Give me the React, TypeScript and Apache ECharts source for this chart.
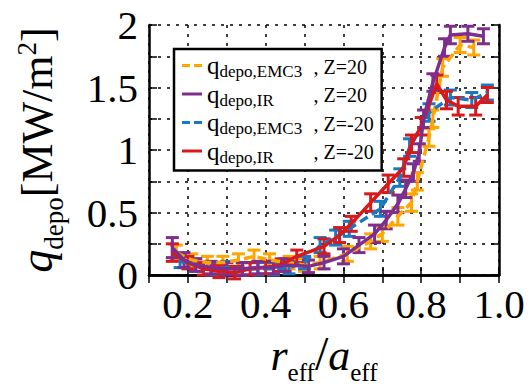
import React, { useEffect, useRef } from "react";
import * as echarts from "echarts";

// ---- data ----
const xEmc20 = [0.17, 0.21, 0.25, 0.29, 0.33, 0.37, 0.41, 0.46, 0.50, 0.54, 0.61, 0.67, 0.70, 0.74, 0.775, 0.79, 0.82, 0.83, 0.855, 0.90, 0.935];
const yEmc20 = [0.18, 0.12, 0.10, 0.10, 0.12, 0.15, 0.12, 0.10, 0.08, 0.10, 0.17, 0.27, 0.33, 0.47, 0.58, 0.75, 1.10, 1.25, 1.66, 1.84, 1.82];
const eEmc20 = [0.06, 0.05, 0.05, 0.05, 0.05, 0.05, 0.05, 0.05, 0.05, 0.05, 0.06, 0.06, 0.06, 0.07, 0.07, 0.07, 0.07, 0.07, 0.07, 0.06, 0.06];

const xIr20 = [0.16, 0.19, 0.22, 0.26, 0.30, 0.34, 0.38, 0.42, 0.45, 0.51, 0.55, 0.60, 0.64, 0.68, 0.71, 0.74, 0.76, 0.78, 0.795, 0.806, 0.83, 0.86, 0.875, 0.92, 0.96];
const yIr20 = [0.22, 0.12, 0.08, 0.06, 0.05, 0.05, 0.06, 0.06, 0.08, 0.07, 0.10, 0.15, 0.24, 0.33, 0.44, 0.57, 0.69, 0.82, 0.98, 1.25, 1.54, 1.82, 1.92, 1.93, 1.91];
const eIr20 = [0.08, 0.06, 0.05, 0.05, 0.05, 0.05, 0.05, 0.05, 0.05, 0.05, 0.05, 0.06, 0.06, 0.07, 0.07, 0.07, 0.07, 0.07, 0.07, 0.07, 0.07, 0.07, 0.07, 0.06, 0.06];

const xEmcM20 = [0.18, 0.22, 0.26, 0.30, 0.34, 0.38, 0.42, 0.46, 0.50, 0.54, 0.58, 0.615, 0.695, 0.745, 0.77, 0.82, 0.875, 0.93, 0.97];
const yEmcM20 = [0.11, 0.08, 0.05, 0.06, 0.05, 0.05, 0.05, 0.06, 0.10, 0.24, 0.30, 0.37, 0.53, 0.78, 1.02, 1.30, 1.42, 1.40, 1.46];
const eEmcM20 = [0.05, 0.05, 0.05, 0.05, 0.05, 0.05, 0.05, 0.05, 0.05, 0.06, 0.06, 0.06, 0.06, 0.07, 0.07, 0.07, 0.06, 0.06, 0.06];

const xIrM20 = [0.16, 0.20, 0.24, 0.28, 0.32, 0.36, 0.40, 0.44, 0.48, 0.55, 0.59, 0.62, 0.67, 0.715, 0.755, 0.775, 0.80, 0.84, 0.865, 0.895, 0.94, 0.97];
const yIrM20 = [0.18, 0.10, 0.05, 0.03, 0.02, 0.05, 0.06, 0.08, 0.15, 0.23, 0.32, 0.41, 0.58, 0.73, 0.86, 1.05, 1.19, 1.53, 1.40, 1.35, 1.35, 1.44];
const eIrM20 = [0.07, 0.05, 0.05, 0.05, 0.05, 0.05, 0.05, 0.05, 0.05, 0.06, 0.06, 0.06, 0.07, 0.07, 0.07, 0.07, 0.07, 0.07, 0.07, 0.07, 0.07, 0.06];

const xTicks = { min: 0.1, max: 1.0, step: 0.1 };
const yTicks = { min: 0, max: 2, step: 0.25 };

const FONT = "Liberation Serif";

const ICON_SOLID = "path://M0,0h20v3h-20z";
const ICON_DASH = "path://M0,0h8v3h-8z M12,0h8v3h-8z";

const seriesDefs = [
  { key: "emc20", sub: "depo,EMC3", z: ", Z=20", color: "#FFA500", dashed: true, x: xEmc20, y: yEmc20, e: eEmc20 },
  { key: "ir20", sub: "depo,IR", z: ", Z=20", color: "#7E2F8E", dashed: false, x: xIr20, y: yIr20, e: eIr20 },
  { key: "emcm20", sub: "depo,EMC3", z: ", Z=-20", color: "#1A78C2", dashed: true, x: xEmcM20, y: yEmcM20, e: eEmcM20 },
  { key: "irm20", sub: "depo,IR", z: ", Z=-20", color: "#D7191C", dashed: false, x: xIrM20, y: yIrM20, e: eIrM20 },
];

export default function App() {
  const ref = useRef<HTMLDivElement>(null);
  useEffect(() => {
    if (!ref.current) return;
    const chart = echarts.init(ref.current, undefined, { renderer: "svg" });

    const drawOrder = ["emc20", "emcm20", "irm20", "ir20"];
    const series: any[] = [];
    drawOrder.forEach((k) => {
      const s = seriesDefs.find((d) => d.key === k)!;
      series.push({
        name: s.key,
        type: "line",
        showSymbol: false,
        symbol: "none",
        data: s.x.map((x, i) => [x, s.y[i]]),
        lineStyle: { color: s.color, width: 3.5, type: s.dashed ? [9, 5] : "solid" },
        itemStyle: { color: s.color },
      });
      series.push({
        name: s.key + "_err",
        type: "custom",
        data: s.x.map((x, i) => [x, s.y[i], s.e[i]]),
        encode: { x: 0, y: 1 },
        renderItem: (params: any, api: any) => {
          const x = api.value(0);
          const y = api.value(1);
          const e = api.value(2);
          const top = api.coord([x, y + e]);
          const bot = api.coord([x, y - e]);
          const hw = 6.5;
          const st = { stroke: s.color, lineWidth: 3 };
          return {
            type: "group",
            children: [
              { type: "line", shape: { x1: top[0], y1: top[1], x2: bot[0], y2: bot[1] }, style: st },
              { type: "line", shape: { x1: top[0] - hw, y1: top[1], x2: top[0] + hw, y2: top[1] }, style: st },
              { type: "line", shape: { x1: bot[0] - hw, y1: bot[1], x2: bot[0] + hw, y2: bot[1] }, style: st },
            ],
          };
        },
      });
    });

    const legendRich = {
      q: { fontFamily: FONT, fontSize: 25, color: "#000", verticalAlign: "bottom", lineHeight: 20, height: 20 },
      s: { fontFamily: FONT, fontSize: 17, color: "#000", width: 94, verticalAlign: "bottom", lineHeight: 20, height: 8 },
      z: { fontFamily: FONT, fontSize: 20, color: "#000", verticalAlign: "bottom", lineHeight: 20, height: 18 },
    };

    const axisLineStyle = { color: "#000", width: 2.5 };

    chart.setOption({
      animation: false,
      backgroundColor: "#fff",
      textStyle: { fontFamily: FONT },
      grid: { left: 149, right: 29, top: 25, bottom: 112, containLabel: false },
      legend: {
        data: seriesDefs.map((s) => ({ name: s.key, icon: s.dashed ? ICON_DASH : ICON_SOLID })),
        orient: "vertical",
        left: 174,
        top: 49,
        width: 211,
        padding: [4, 8, 5, 8],
        itemGap: 1.5,
        itemWidth: 20,
        itemHeight: 3,
        backgroundColor: "#fff",
        borderColor: "#000",
        borderWidth: 2.5,
        borderRadius: 0,
        formatter: (name: string) => {
          const s = seriesDefs.find((d) => d.key === name)!;
          return `{q|q}{s|${s.sub}}{z|${s.z}}`;
        },
        textStyle: { rich: legendRich, fontFamily: FONT, lineHeight: 20 },
      },
      xAxis: [
        {
          type: "value",
          min: xTicks.min,
          max: xTicks.max,
          interval: xTicks.step,
          position: "bottom",
          name: "{r|r}{s|eff}{sl|/}{r|a}{s|eff}",
          nameLocation: "middle",
          nameGap: 52,
          nameTextStyle: {
            rich: {
              r: { fontFamily: FONT, fontStyle: "italic", fontSize: 44, color: "#000", verticalAlign: "bottom", lineHeight: 44 },
              s: { fontFamily: FONT, fontSize: 25, color: "#000", verticalAlign: "bottom", lineHeight: 44, padding: [0, 0, -8, 0] },
              sl: { fontFamily: FONT, fontSize: 48, color: "#000", verticalAlign: "bottom", lineHeight: 44 },
            },
          },
          axisLine: { show: true, lineStyle: axisLineStyle },
          axisTick: { show: true, inside: true, length: 8, lineStyle: { color: "#000", width: 1.5 } },
          axisLabel: {
            fontFamily: FONT,
            fontSize: 41,
            color: "#000",
            margin: 8,
            formatter: (v: number) => {
              const k = Math.round(v * 10);
              return k % 2 === 0 ? (k / 10).toFixed(1) : "";
            },
          },
          splitLine: { show: true, lineStyle: { color: "#000", type: [3, 6], width: 1.5 } },
        },
        {
          type: "value",
          min: xTicks.min,
          max: xTicks.max,
          interval: xTicks.step,
          position: "top",
          axisLine: { show: true, lineStyle: axisLineStyle },
          axisTick: { show: true, inside: true, length: 8, lineStyle: { color: "#000", width: 1.5 } },
          axisLabel: { show: false },
          splitLine: { show: false },
        },
      ],
      yAxis: [
        {
          type: "value",
          min: yTicks.min,
          max: yTicks.max,
          interval: yTicks.step,
          position: "left",
          name: "{q|q}{s|depo}{u|[MW/m}{p|2}{u|]}",
          nameLocation: "middle",
          nameRotate: 90,
          nameGap: 90,
          nameTextStyle: {
            rich: {
              q: { fontFamily: FONT, fontStyle: "italic", fontSize: 46, color: "#000", verticalAlign: "bottom", lineHeight: 46 },
              s: { fontFamily: FONT, fontSize: 27, color: "#000", verticalAlign: "bottom", lineHeight: 46, padding: [0, 0, -8, 0] },
              u: { fontFamily: FONT, fontSize: 44, color: "#000", verticalAlign: "bottom", lineHeight: 46 },
              p: { fontFamily: FONT, fontSize: 27, color: "#000", verticalAlign: "top", lineHeight: 46 },
            },
          },
          axisLine: { show: true, lineStyle: axisLineStyle },
          axisTick: { show: true, inside: true, length: 8, lineStyle: { color: "#000", width: 1.5 } },
          axisLabel: {
            fontFamily: FONT,
            fontSize: 41,
            color: "#000",
            margin: 11,
            formatter: (v: number) => {
              const k = Math.round(v * 4);
              return k % 2 === 0 ? String(k / 4) : "";
            },
          },
          splitLine: { show: true, lineStyle: { color: "#000", type: [3, 6], width: 1.5 } },
        },
        {
          type: "value",
          min: yTicks.min,
          max: yTicks.max,
          interval: yTicks.step,
          position: "right",
          axisLine: { show: true, lineStyle: axisLineStyle },
          axisTick: { show: true, inside: true, length: 8, lineStyle: { color: "#000", width: 1.5 } },
          axisLabel: { show: false },
          splitLine: { show: false },
        },
      ],
      series,
    });
    return () => chart.dispose();
  }, []);
  return <div ref={ref} style={{ width: 528, height: 390, position: "absolute", left: 0, top: 0 }} />;
}
